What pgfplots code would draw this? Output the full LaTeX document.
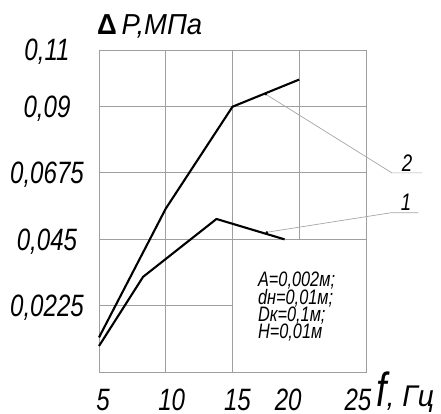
\documentclass[border=0pt]{standalone}
\usepackage{pgfplots}
\pgfplotsset{compat=1.18}
\usepackage{fontspec}
\setmainfont{Liberation Sans}[FakeStretch=0.78]
\newfontfamily\wide{Liberation Sans}[FakeStretch=0.95]
\usetikzlibrary{calc}
\newcommand\tl[1]{\textit{#1}}
\begin{document}
\begin{tikzpicture}
\begin{axis}[name=ax, scale only axis, width=267bp, height=322bp,
 xmin=5, xmax=25, ymin=0, ymax=0.109, clip=false,
 axis line style={draw=gray!75, line width=0.8bp},
 xtick={5,10,15,20,25},
 xticklabels={{\kern8bp\tl{5}},{\kern12bp\tl{10}},{\kern10bp\tl{15}},{\tl{20}\kern22bp},{\tl{25}\kern16bp}},
 ytick={0.0225,0.045,0.0675,0.09,0.109},
 yticklabels={{\tl{0,0225}},{\tl{0,045}},{\tl{0,0675}},{\tl{0,09}},{\tl{0,11}}},
 major tick length=0pt,
 tick label style={font=\fontsize{31}{33}\selectfont},
 xticklabel style={anchor=base, yshift=-38bp, inner sep=0pt},
 yticklabel style={anchor=base, xshift=-52bp, yshift=-11bp},
]
% grid
\draw[gray!75, line width=0.8bp] (axis cs:10,0) -- (axis cs:10,0.109);
\draw[gray!75, line width=0.8bp] (axis cs:15,0) -- (axis cs:15,0.109);
\draw[gray!75, line width=0.8bp] (axis cs:20,0.045) -- (axis cs:20,0.109);
\draw[gray!75, line width=0.8bp] (axis cs:5,0.09) -- (axis cs:25,0.09);
\draw[gray!75, line width=0.8bp] (axis cs:5,0.0675) -- (axis cs:25,0.0675);
\draw[gray!75, line width=0.8bp] (axis cs:5,0.045) -- (axis cs:25,0.045);
\draw[gray!75, line width=0.8bp] (axis cs:5,0.0225) -- (axis cs:15,0.0225);
% curves
\addplot[black, line width=2.1bp, line join=round] coordinates {(5,0.0117) (10,0.0553) (15,0.0898) (20,0.099)};
\addplot[black, line width=2.1bp, line join=round] coordinates {(5,0.0088) (8.3,0.0322) (13.8,0.0518) (18.9,0.0449)};
% leaders
\draw[gray!70, line width=0.7bp] (axis cs:17.5,0.0940) -- (axis cs:26.94,0.0674) -- (axis cs:29.23,0.0674);
\draw[gray!70, line width=0.7bp] (axis cs:17.57,0.0473) -- (axis cs:26.86,0.0539) -- (axis cs:28.93,0.0539);
\fill[black] (axis cs:17.5,0.0940) circle (1.3bp);
\fill[black] (axis cs:17.57,0.0473) circle (1.3bp);
\node[font=\fontsize{24}{24}\selectfont\itshape] at (axis cs:28.07,0.0706) {2};
\node[font=\fontsize{24}{24}\selectfont\itshape] at (axis cs:28.0,0.0576) {1};
% parameters
\node[anchor=base west, font=\fontsize{21}{21}\selectfont\itshape, inner sep=0pt] at (axis cs:16.9,0.0289) {A=0,002м;};
\node[anchor=base west, font=\fontsize{21}{21}\selectfont\itshape, inner sep=0pt] at (axis cs:16.9,0.0230) {dн=0,01м;};
\node[anchor=base west, font=\fontsize{21}{21}\selectfont\itshape, inner sep=0pt] at (axis cs:16.9,0.0172) {Dк=0,1м;};
\node[anchor=base west, font=\fontsize{21}{21}\selectfont\itshape, inner sep=0pt] at (axis cs:16.9,0.0115) {H=0,01м};
% axis labels
\node[anchor=base west, inner sep=0pt] at (axis cs:25.75,-0.0118) {\itshape{\fontsize{48}{48}\selectfont f}{\wide\fontsize{30}{30}\selectfont, Гц}};
\node[anchor=base west, inner sep=0pt, xshift=-2bp, yshift=15bp] at (rel axis cs:0,1) {\wide\fontsize{29}{29}\selectfont{\upshape\bfseries Δ}\,\itshape P,МПа};
\end{axis}
\pgfresetboundingbox
\path[use as bounding box] ($(ax.south west)+(-99bp,-42bp)$) rectangle ($(ax.north east)+(75bp,50bp)$);
\end{tikzpicture}
\end{document}
